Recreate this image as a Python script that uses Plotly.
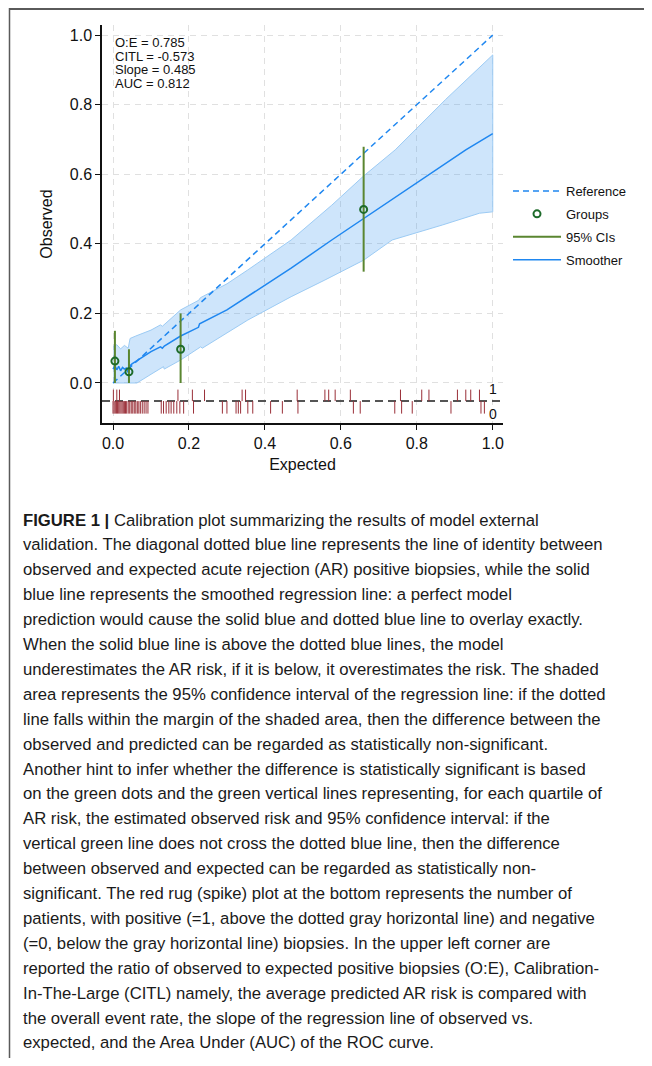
import plotly.graph_objects as go

# ---------------- data ----------------
ref_x = [0.0, 1.0]
ref_y = [0.0, 1.0]

smooth_x = [0.000, 0.005, 0.010, 0.015, 0.020, 0.025, 0.030, 0.035, 0.040, 0.045, 0.050, 0.060,
            0.080, 0.100, 0.125, 0.130, 0.135, 0.178, 0.225, 0.228, 0.300, 0.350, 0.355, 0.469,
            0.576, 0.660, 0.800, 0.929, 1.000]
smooth_y = [0.040, 0.050, 0.038, 0.048, 0.035, 0.045, 0.040, 0.043, 0.030, 0.050, 0.055, 0.062,
            0.076, 0.090, 0.104, 0.100, 0.106, 0.135, 0.160, 0.170, 0.210, 0.245, 0.248, 0.330,
            0.411, 0.473, 0.575, 0.670, 0.717]

upper_x = [0.000, 0.010, 0.020, 0.030, 0.040, 0.045, 0.060, 0.080, 0.100, 0.125, 0.130, 0.178,
           0.226, 0.230, 0.300, 0.355, 0.469, 0.576, 0.660, 0.743, 0.876, 1.000]
upper_y = [0.105, 0.110, 0.098, 0.108, 0.100, 0.128, 0.135, 0.143, 0.152, 0.167, 0.163, 0.210,
           0.238, 0.245, 0.285, 0.325, 0.411, 0.511, 0.595, 0.670, 0.815, 0.943]

lower_x = [0.000, 0.063, 0.100, 0.133, 0.135, 0.178, 0.231, 0.235, 0.355, 0.469, 0.558, 0.660,
           0.735, 0.867, 0.965, 1.000]
lower_y = [0.000, 0.000, 0.025, 0.047, 0.040, 0.066, 0.104, 0.100, 0.181, 0.248, 0.296, 0.353,
           0.411, 0.454, 0.488, 0.492]

group_x = [0.005, 0.042, 0.178, 0.660]
group_y = [0.063, 0.032, 0.097, 0.499]
group_lo = [0.000, 0.000, 0.000, 0.320]
group_hi = [0.150, 0.097, 0.200, 0.679]

# rug: predicted risks of patients with positive (1) and negative (0) biopsies
rug_pos = [0.001, 0.010, 0.017, 0.171, 0.209, 0.241, 0.340, 0.349, 0.485, 0.558, 0.568,
           0.585, 0.625, 0.757, 0.813, 0.832, 0.907, 0.929, 0.942, 0.965]
rug_neg = [0.000, 0.003, 0.006, 0.009, 0.012, 0.015, 0.018, 0.021, 0.024, 0.027, 0.030,
           0.033, 0.036, 0.040, 0.044, 0.048, 0.052, 0.056, 0.060, 0.064, 0.068, 0.072,
           0.077, 0.082, 0.087, 0.092, 0.127, 0.133, 0.140, 0.147, 0.153, 0.160, 0.168,
           0.176, 0.186, 0.212, 0.288, 0.300, 0.324, 0.330, 0.336, 0.355, 0.368, 0.415,
           0.446, 0.487, 0.633, 0.651, 0.742, 0.760, 0.788, 0.890, 0.969, 0.978]
rug_base = -0.052
rug_len = 0.033

stats_text = ["O:E = 0.785", "CITL = -0.573", "Slope = 0.485", "AUC = 0.812"]

x_ticks = [0.0, 0.2, 0.4, 0.6, 0.8, 1.0]
y_ticks = [0.0, 0.2, 0.4, 0.6, 0.8, 1.0]

caption_lines = [
    "<b>FIGURE 1 |</b> Calibration plot summarizing the results of model external",
    "validation. The diagonal dotted blue line represents the line of identity between",
    "observed and expected acute rejection (AR) positive biopsies, while the solid",
    "blue line represents the smoothed regression line: a perfect model",
    "prediction would cause the solid blue and dotted blue line to overlay exactly.",
    "When the solid blue line is above the dotted blue lines, the model",
    "underestimates the AR risk, if it is below, it overestimates the risk. The shaded",
    "area represents the 95% confidence interval of the regression line: if the dotted",
    "line falls within the margin of the shaded area, then the difference between the",
    "observed and predicted can be regarded as statistically non-significant.",
    "Another hint to infer whether the difference is statistically significant is based",
    "on the green dots and the green vertical lines representing, for each quartile of",
    "AR risk, the estimated observed risk and 95% confidence interval: if the",
    "vertical green line does not cross the dotted blue line, then the difference",
    "between observed and expected can be regarded as statistically non-",
    "significant. The red rug (spike) plot at the bottom represents the number of",
    "patients, with positive (=1, above the dotted gray horizontal line) and negative",
    "(=0, below the gray horizontal line) biopsies. In the upper left corner are",
    "reported the ratio of observed to expected positive biopsies (O:E), Calibration-",
    "In-The-Large (CITL) namely, the average predicted AR risk is compared with",
    "the overall event rate, the slope of the regression line of observed vs.",
    "expected, and the Area Under (AUC) of the ROC curve.",
]

# ---------------- layout geometry (reference page pixels) ----------------
OFF = 8                      # page body margin
W, H = 652 - 2 * OFF, 1066 - 2 * OFF
PL, PR, PT, PB = 102, 503, 25, 423


def pxx(p):
    return (p - PL) / (PR - PL)


def pxy(p):
    return (PB - p) / (PB - PT)


BLUE = "#1f87f0"
BAND_FILL = "rgba(60,150,240,0.25)"
BAND_LINE = "#9ccbf4"
DKGREEN = "#1d6b2a"
OLIVE = "#5a8630"
RUG = "#9a2f38"
FONT = "Liberation Sans, Arial, sans-serif"

fig = go.Figure()

# confidence band
fig.add_trace(go.Scatter(
    x=upper_x + lower_x[::-1], y=upper_y + lower_y[::-1],
    fill="toself", fillcolor=BAND_FILL, mode="lines",
    line=dict(color=BAND_LINE, width=1), showlegend=False, hoverinfo="skip"))

# rug baseline
fig.add_trace(go.Scatter(
    x=[-0.029, 1.027], y=[rug_base, rug_base], mode="lines",
    line=dict(color="#555555", width=2, dash="8px,5px"), showlegend=False, hoverinfo="skip"))

# rug ticks
rx, ry = [], []
for v in rug_pos:
    rx += [v, v, None]
    ry += [rug_base, rug_base + rug_len, None]
for v in rug_neg:
    rx += [v, v, None]
    ry += [rug_base, rug_base - rug_len - 0.003, None]
fig.add_trace(go.Scatter(x=rx, y=ry, mode="lines", line=dict(color=RUG, width=1),
                         showlegend=False, hoverinfo="skip"))

# reference
fig.add_trace(go.Scatter(x=ref_x, y=ref_y, mode="lines", name="Reference", legendgroup="a",
                         line=dict(color=BLUE, width=1.5, dash="6px,4px"), legendrank=1))

# smoother
fig.add_trace(go.Scatter(x=smooth_x, y=smooth_y, mode="lines", name="Smoother", legendgroup="d",
                         line=dict(color=BLUE, width=1.5), legendrank=4))

# 95% CIs
cx, cy = [], []
for gx, lo, hi in zip(group_x, group_lo, group_hi):
    cx += [gx, gx, None]
    cy += [lo, hi, None]
fig.add_trace(go.Scatter(x=cx, y=cy, mode="lines", name="95% CIs", legendgroup="c",
                         line=dict(color=OLIVE, width=2), legendrank=3))

# groups
fig.add_trace(go.Scatter(x=group_x, y=group_y, mode="markers", name="Groups", legendgroup="b",
                         marker=dict(symbol="circle-open", size=7, color=DKGREEN,
                                     line=dict(width=2, color=DKGREEN)), legendrank=2))

axis_common = dict(
    showline=True, linecolor="#111111", linewidth=1.5, mirror=False,
    ticks="outside", ticklen=5, tickwidth=1.2, tickcolor="#111111",
    showgrid=True, gridcolor="#e0e0e0", gridwidth=1, griddash="6px,5px",
    zeroline=False, tickformat=".1f",
    tickfont=dict(family=FONT, size=16, color="#111111"),
    title_font=dict(family=FONT, size=16, color="#111111"),
)

fig.update_layout(
    width=W, height=H,
    margin=dict(l=PL - OFF, r=W - (PR - OFF), t=PT - OFF, b=H - (PB - OFF), pad=0),
    plot_bgcolor="white", paper_bgcolor="white",
    font=dict(family=FONT, color="#111111"),
    xaxis=dict(range=[-0.029, 1.027], tickvals=x_ticks, title=dict(text="Expected", standoff=8),
               **axis_common),
    yaxis=dict(range=[-0.115, 1.029], tickvals=y_ticks, title=dict(text="Observed", standoff=13),
               **axis_common),
    legend=dict(x=pxx(508), y=pxy(176), xanchor="left", yanchor="top",
                font=dict(size=13, color="#111111"), bgcolor="rgba(0,0,0,0)",
                traceorder="grouped", tracegroupgap=3, itemwidth=48),
    showlegend=True,
)

annotations = []
for i, t in enumerate(stats_text):
    annotations.append(dict(x=0.0, y=pxy(43 + 13.4 * i), xref="x", yref="paper", text=t,
                            showarrow=False, xanchor="left", yanchor="middle",
                            font=dict(size=13, color="#111111")))
annotations.append(dict(x=1.0, y=-0.018, xref="x", yref="y", text="1", showarrow=False,
                        xanchor="center", yanchor="middle", font=dict(size=14, color="#111111")))
annotations.append(dict(x=1.0, y=-0.088, xref="x", yref="y", text="0", showarrow=False,
                        xanchor="center", yanchor="middle", font=dict(size=14, color="#111111")))

for i, line in enumerate(caption_lines):
    annotations.append(dict(x=pxx(21), y=pxy(520 + 24.9 * i), xref="paper", yref="paper",
                            text=line, showarrow=False, xanchor="left", yanchor="middle",
                            font=dict(family=FONT, size=16.7, color="#1a1a1a")))
fig.update_layout(annotations=annotations)

# frame lines (top and left)
fig.add_shape(type="line", xref="paper", yref="paper", x0=pxx(9), x1=pxx(660), y0=pxy(9), y1=pxy(9),
              line=dict(color="#5a5a5a", width=2))
fig.add_shape(type="line", xref="paper", yref="paper", x0=pxx(9.5), x1=pxx(9.5), y0=pxy(8), y1=pxy(1070),
              line=dict(color="#5a5a5a", width=1.5))

fig.write_html("out.html")
